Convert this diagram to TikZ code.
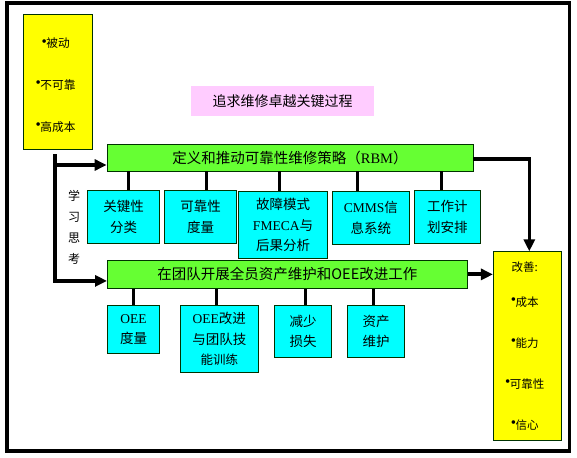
\documentclass[tikz,border=0pt]{standalone}
\usepackage{fontspec}
\setmainfont{Liberation Serif}
\newfontfamily\cjk{Noto Sans CJK SC}
\usepackage{xcolor}
\definecolor{noteyellow}{RGB}{255,255,0}
\definecolor{leafgreen}{RGB}{102,255,51}
\definecolor{boxcyan}{RGB}{0,255,255}
\definecolor{titlepink}{RGB}{255,204,255}
\definecolor{edgegreen}{RGB}{0,51,0}
\usepackage{tikz}
\usetikzlibrary{
    arrows.meta,
    positioning,
    calc
}
\newcommand{\dotmark}{\raisebox{1.5pt}{\fontsize{15}{15}\selectfont\rmfamily\textbullet}\kern-0.5pt}

\begin{document}
\begin{tikzpicture}[
    x=1pt, y=-1pt,
    >={Triangle[length=12pt,width=11pt]},
    every text node part/.style={align=center},
    box/.style={draw=edgegreen, line width=0.8pt, inner sep=0pt, font=\cjk\fontsize{13.5}{20.5}\selectfont},
    barnode/.style={box, fill=leafgreen, font=\cjk\fontsize{14.5}{18}\selectfont},
    itemnode/.style={box, fill=boxcyan},
    notenode/.style={box, fill=noteyellow},
    listtext/.style={anchor=west, align=left, inner sep=0pt},
    stem/.style={draw=black, line width=3pt},
    flow/.style={draw=black, line width=4pt, ->}
]
\useasboundingbox (0,0) rectangle (577,457);

% ==================== OUTER FRAME ====================
\draw[line width=3.5pt] (7,3) rectangle (569.5,451);

% ==================== STARTING POINT ====================
\node[notenode, minimum width=69pt, minimum height=135pt] (passive) at (57.5,81.5) {};
\node[listtext, font=\cjk\fontsize{11.7}{41.7}\selectfont] (passive_txt) at (35.5,85) {%
    \dotmark 被动\\%
    \dotmark 不可靠\\%
    \dotmark 高成本%
};

% ==================== TITLE ====================
\node[fill=titlepink, inner sep=0pt, minimum width=183pt, minimum height=30pt,
      font=\cjk\fontsize{14}{16}\selectfont] (goal) at (282.5,100.7) {追求维修卓越关键过程};

% ==================== RBM STRATEGY ====================
\node[barnode, minimum width=366pt, minimum height=27pt] (rbm) at (290,157.5)
    {定义和推动可靠性维修策略（{\rmfamily RBM}）};

\node[itemnode, minimum width=71.6pt, minimum height=52.3pt] (crit) at (123.5,216.9) {关键性\\分类};
\node[itemnode, minimum width=71.6pt, minimum height=52.3pt] (relmeas) at (200.5,216.9) {可靠性\\度量};
\node[itemnode, minimum width=89pt, minimum height=66.8pt] (fmeca) at (283,225.1)
    {故障模式\\{\rmfamily FMECA}与\\后果分析};
\node[itemnode, minimum width=77pt, minimum height=52.7pt] (cmms) at (370.8,217.7) {{\rmfamily CMMS}信\\息系统};
\node[itemnode, minimum width=66pt, minimum height=53pt] (sched) at (447.3,216.8) {工作计\\划安排};

\foreach \b/\dx in {crit/4.8, relmeas/6.2, fmeca/-3.7, cmms/-13.1, sched/-5.6}
    \draw[stem] ([xshift=\dx pt]\b.north) -- ([xshift=\dx pt]\b.north |- rbm.south);

% ==================== TEAM OEE WORK ====================
\node[barnode, minimum width=360pt, minimum height=28pt] (team) at (287.4,274.4)
    {在团队开展全员资产维护和OEE改进工作};

\node[itemnode, minimum width=51.6pt, minimum height=47.6pt] (oee) at (133.5,329.5) {{\rmfamily OEE}\\度量};
\node[itemnode, minimum width=78pt, minimum height=66.6pt] (train) at (219.3,339)
    {{\rmfamily OEE}改进\\与团队技\\{\fontsize{12.5}{20}\selectfont 能训练}};
\node[itemnode, minimum width=56.7pt, minimum height=51.6pt] (loss) at (303,331.5) {减少\\损失};
\node[itemnode, minimum width=56.6pt, minimum height=51.6pt] (asset) at (376,331.5) {资产\\维护};

\foreach \b/\dx in {oee/0, train/-2.6, loss/2, asset/-2.7}
    \draw[stem] ([xshift=\dx pt]\b.north) -- ([xshift=\dx pt]\b.north |- team.south);

% ==================== LEARNING LOOP ====================
\node[font=\cjk\fontsize{12}{21}\selectfont] (study) at (74,227.4) {学\\习\\思\\考};
\coordinate (fork) at (55,154);
\draw[flow] (fork) |- ([yshift=-7.5pt]rbm.west);
\draw[flow] (fork) |- ([yshift=-6.5pt]team.west);

% ==================== RESULTS ====================
\node[notenode, minimum width=68.4pt, minimum height=188.3pt] (gains) at (527.5,345.9) {};
\node[listtext, font=\cjk\fontsize{11.5}{41}\selectfont] (gains_txt) at (505,345.9) {%
    改善:\\[-6pt]%
    \dotmark 成本\\%
    \dotmark 能力\\%
    \dotmark 可靠性\\%
    \dotmark 信心%
};
\draw[flow, line width=3.5pt] ([yshift=-1.5pt]rbm.east) -| ([xshift=1.8pt]gains.north);
\draw[flow] (team.east) -- (team.east -| gains.west);

\end{tikzpicture}
\end{document}
